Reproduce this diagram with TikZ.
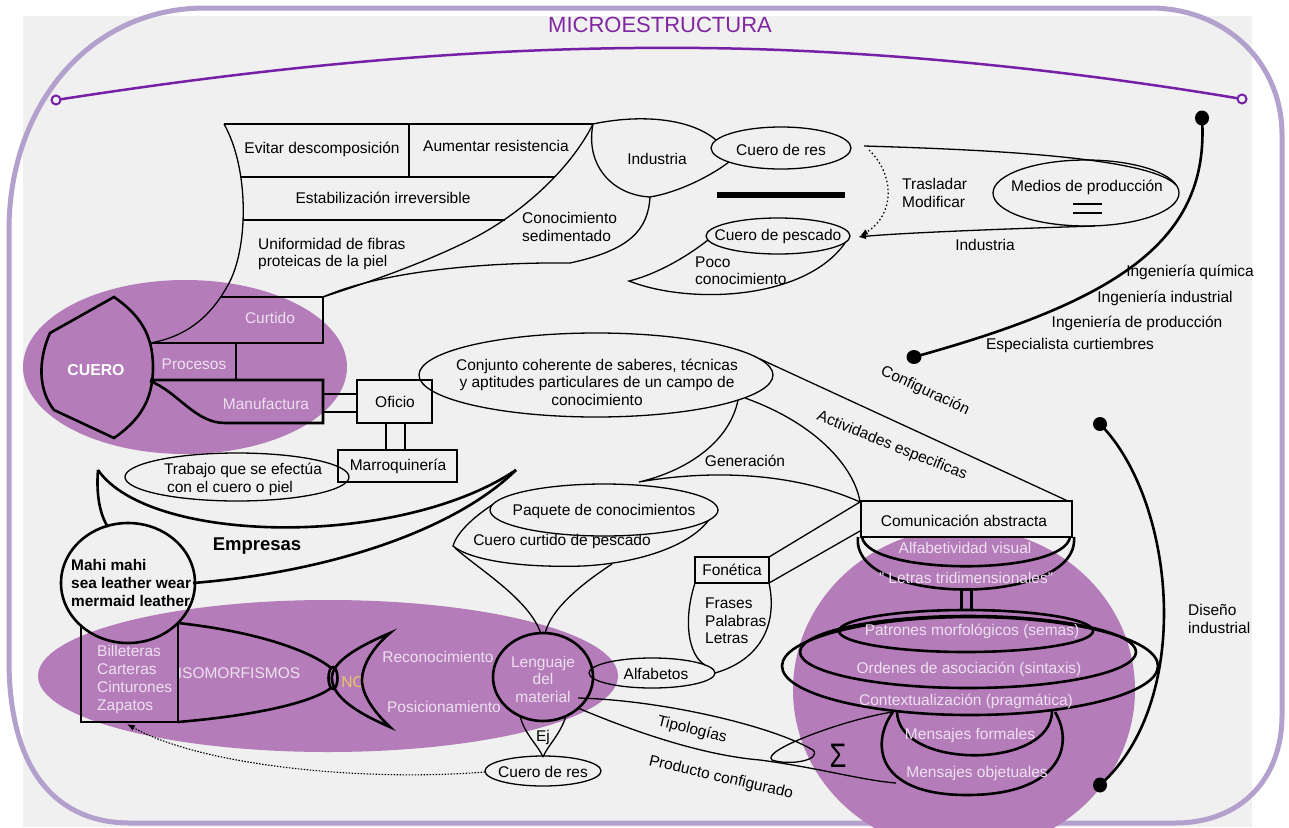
\documentclass[tikz,border=0pt]{standalone}
\usepackage{fontspec}
\setmainfont{Liberation Sans}
\usetikzlibrary{arrows.meta}
\definecolor{bggray}{RGB}{240,240,240}
\definecolor{framec}{RGB}{180,160,205}
\definecolor{titlec}{RGB}{128,38,160}
\definecolor{violetline}{RGB}{118,32,168}
\definecolor{purp}{RGB}{181,124,186}
\definecolor{lighttxt}{RGB}{238,224,240}
\definecolor{yel}{RGB}{236,200,100}
\begin{document}
\begin{tikzpicture}[x=1pt,y=-1pt,
  txt/.style={font=\fontsize{15.5}{17.5}\selectfont, inner sep=0pt, align=center},
  ltxt/.style={txt, text=lighttxt},
  btxt/.style={font=\fontsize{15.4}{18}\selectfont\bfseries, inner sep=0pt, align=left},
  ln/.style={line width=1.3pt, black},
  thk/.style={line width=2.6pt, black},
  arr/.style={-{Latex[length=8pt,width=6pt]}}]
\useasboundingbox (0,0) rectangle (1289,827);
\fill[white] (0,0) rectangle (1289,827);
\fill[bggray] (23,16) rectangle (1252,827);
% frame
\draw[framec, line width=5pt] (9,230) .. controls (9,105) and (90,8) .. (205,8) -- (1150,8)
  .. controls (1225,8) and (1282,62) .. (1282,135) -- (1282,715)
  .. controls (1282,780) and (1240,823) .. (1175,823) -- (130,823)
  .. controls (60,823) and (9,775) .. (9,660) -- cycle;
% title and purple line
\node[font=\fontsize{22}{24}\selectfont, text=titlec, inner sep=0pt] (title) at (660,25) {MICROESTRUCTURA};
\draw[violetline, line width=2.5pt] (56,100) .. controls (300,62) and (500,46) .. (700,48) .. controls (900,50) and (1100,75) .. (1242,99);
\draw[violetline, line width=2pt, fill=bggray] (56,100) ellipse[x radius=4.5, y radius=4.5];
\draw[violetline, line width=2pt, fill=bggray] (1242,99) ellipse[x radius=4.5, y radius=4.5];
% purple blobs
\fill[purp] (185,367) ellipse[x radius=162, y radius=87];
\fill[purp] (328,676) ellipse[x radius=290, y radius=76];
\fill[purp] (964,690) ellipse[x radius=171, y radius=162];

% ---------- top-left table ----------
\draw[ln] (224,124) -- (593,124);
\draw[ln] (409,124) -- (409,177);
\draw[ln] (241,177) -- (554,177);
\draw[ln] (243,220) -- (505,220);
\draw[ln] (224,124) .. controls (250,170) and (248,250) .. (228,285) .. controls (210,318) and (185,337) .. (150,343);
\draw[ln] (593,124) .. controls (570,170) and (520,215) .. (470,240) .. controls (420,265) and (360,285) .. (323,297);
\draw[ln] (323,297) .. controls (380,272) and (480,262) .. (570,263) .. controls (630,250) and (648,230) .. (650,197);
\draw[ln] (650,197) .. controls (612,195) and (585,165) .. (593,124);
\draw[ln] (593,124) .. controls (640,114) and (690,118) .. (716,140);
\draw[ln] (650,197) .. controls (680,192) and (712,175) .. (729,162);
\node[txt] (evitar) at (322,149) {Evitar descomposición};
\node[txt] (aumentar) at (496,146) {Aumentar resistencia};
\node[txt] (estab) at (383,198) {Estabilización irreversible};
\node[txt, anchor=west, align=left] (unif) at (258,254) {Uniformidad de fibras\\proteicas de la piel};
\node[txt, anchor=west, align=left] (conoc) at (522,227) {Conocimiento\\sedimentado};
\node[txt] (industria1) at (657,159) {Industria};

% ---------- CUERO ----------
\draw[thk] (114,297) -- (50,333) .. controls (38,360) and (38,390) .. (54,410) -- (114,438)
  .. controls (140,420) and (153,400) .. (153,367) .. controls (153,335) and (140,315) .. (114,297) -- cycle;
\draw[thk] (220,297) -- (323,297) -- (323,343) -- (150,343);
\draw[thk] (236,343) -- (236,380);
\draw[thk] (150,380) -- (323,380) -- (323,423) -- (225,423) .. controls (195,423) and (178,392) .. (150,381);
\node[font=\fontsize{15.8}{18}\selectfont\bfseries, text=white, inner sep=0pt] (cuero) at (96,370) {CUERO};
\node[ltxt] (curtido) at (270,318) {Curtido};
\node[ltxt] (procesos) at (194,364) {Procesos};
\node[ltxt] (manuf) at (266,404) {Manufactura};
% Oficio / Marroquineria
\draw[ln] (357,380) rectangle (432,423);
\node[txt] (oficio) at (395,402) {Oficio};
\draw[ln] (323,394) -- (357,394);
\draw[ln] (323,412) -- (357,412);
\draw[ln] (338,450) rectangle (457,482);
\node[txt] (marro) at (398,466) {Marroquinería};
\draw[ln] (386,423) -- (386,450);
\draw[ln] (405,423) -- (405,450);
\draw[ln] (237,477) ellipse[x radius=112, y radius=24];
\node[txt] (trab1) at (243,470) {Trabajo que se efectúa};
\node[txt] (trab2) at (230,488) {con el cuero o piel};

% ---------- Empresas ----------
\draw[thk] (98,470) .. controls (150,545) and (400,548) .. (516,470);
\draw[thk] (193,583) .. controls (330,572) and (455,530) .. (516,470);
\draw[thk] (98,470) .. controls (96,495) and (100,515) .. (108,527);
\node[font=\fontsize{18.5}{20}\selectfont\bfseries, inner sep=0pt] (empresas) at (257,546) {Empresas};
\draw[thk] (128,583) ellipse[x radius=67, y radius=60];
\node[btxt, anchor=west] (mahi1) at (71,565) {Mahi mahi};
\node[btxt, anchor=west] (mahi2) at (71,583) {sea leather wear};
\node[btxt, anchor=west] (mahi3) at (71,601) {mermaid leather};

% ---------- bottom-left fish ----------
\draw[thk] (81,626) -- (81,722) -- (178,722) -- (178,623);
\node[ltxt, anchor=west, align=left, font=\fontsize{15.5}{18}\selectfont] (bill) at (97,679) {Billeteras\\Carteras\\Cinturones\\Zapatos};
\draw[thk] (178,623) .. controls (260,632) and (312,652) .. (331,668);
\draw[thk] (178,722) .. controls (260,715) and (312,702) .. (331,688);
\draw[thk] (333,678) ellipse[x radius=4.5, y radius=11];
\node[ltxt] (iso) at (239,673) {ISOMORFISMOS};
\node[txt, text=yel] (no) at (353,682) {NO};
\draw[thk] (390,633) .. controls (350,650) and (330,665) .. (332,680) .. controls (334,697) and (355,712) .. (390,727)
  .. controls (370,708) and (362,692) .. (362,680) .. controls (362,668) and (370,650) .. (390,633) -- cycle;
\node[ltxt] (recon) at (438,657) {Reconocimiento};
\node[ltxt] (posic) at (444,707) {Posicionamiento};

% ---------- Lenguaje del material ----------
\draw[ln] (500,500) .. controls (470,518) and (456,535) .. (453,546) .. controls (470,560) and (520,568) .. (583,566) .. controls (640,563) and (695,545) .. (712,515);
\draw[ln, fill=bggray] (604,510) ellipse[x radius=114, y radius=26];
\node[txt] (paquete) at (604,511) {Paquete de conocimientos};
\node[txt] (curtidopes) at (562,541) {Cuero curtido de pescado};
\draw[ln] (455,548) .. controls (480,570) and (530,600) .. (541,634);
\draw[ln] (612,564) .. controls (580,585) and (550,610) .. (545,634);
\draw[thk] (543,677) ellipse[x radius=50, y radius=44];
\node[ltxt, font=\fontsize{15.5}{17.5}\selectfont] (leng) at (543,679) {Lenguaje\\del\\material};
\draw[ln] (520,716) .. controls (525,735) and (538,745) .. (543,757);
\draw[ln] (566,716) .. controls (560,735) and (548,745) .. (543,757);
\node[txt] (ej) at (543,737) {Ej};
\draw[ln] (543,771) ellipse[x radius=58, y radius=15];
\node[txt] (cueroresb) at (543,772) {Cuero de res};
\draw[line width=1.1pt, dash pattern=on 1.5pt off 1.5pt, arr] (485,772) .. controls (360,782) and (200,765) .. (127,724);

% Alfabetos / Fonetica
\draw[ln] (652,673) ellipse[x radius=63, y radius=15];
\node[txt] (alfab) at (656,674) {Alfabetos};
\draw[ln] (695,557) rectangle (769,583);
\node[txt] (fonet) at (732,570) {Fonética};
\draw[ln] (769,557) -- (860,502);
\draw[ln] (769,583) -- (860,531);
\draw[ln] (695,583) .. controls (683,620) and (688,655) .. (705,665);
\draw[ln] (769,583) .. controls (778,625) and (760,660) .. (715,673);
\node[txt, anchor=west, align=left] (frases) at (705,621) {Frases\\Palabras\\Letras};

% Tipologias / Producto configurado
\draw[ln] (578,698) .. controls (660,700) and (770,725) .. (813,750) .. controls (822,760) and (790,766) .. (772,760) .. controls (760,750) and (850,718) .. (893,712);
\draw[ln] (578,708) .. controls (630,730) and (700,755) .. (760,760) .. controls (820,768) and (860,780) .. (896,783);
\node[txt, rotate=-14] (tipo) at (692,730) {Tipologías};
\node[txt, rotate=-13] (prod) at (721,778) {Producto configurado};

% ---------- Conjunto ----------
\draw[ln] (596,375) ellipse[x radius=177, y radius=42];
\node[txt] (conjunto) at (597,382) {Conjunto coherente de saberes, técnicas\\y aptitudes particulares de un campo de\\conocimiento};
\draw[ln] (760,359) -- (1070,502);
\draw[ln] (745,398) .. controls (820,425) and (855,470) .. (860,502);
\draw[ln] (738,400) .. controls (730,440) and (690,470) .. (639,482) .. controls (720,468) and (800,475) .. (860,502);
\node[txt, rotate=-25] (config) at (925,391) {Configuración};
\node[txt, rotate=-22] (activ) at (892,446) {Actividades especificas};
\node[txt] (gener) at (745,461) {Generación};

% ---------- right purple stack ----------
\draw[thk, fill=bggray] (861,501) rectangle (1072,537);
\node[txt] (comab) at (964,521) {Comunicación abstracta};
\draw[thk] (862,537) .. controls (868,576) and (1064,576) .. (1070,537);
\draw[thk] (858,537) .. controls (850,607) and (1080,607) .. (1074,537);
\node[ltxt] (alfv) at (965,548) {Alfabetividad visual};
\node[ltxt] (letras) at (966,578) {" Letras tridimensionales"};
\draw[line width=3pt] (961,590) -- (961,611);
\draw[line width=3pt] (971,590) -- (971,611);
\draw[thk] (970,666) ellipse[x radius=188, y radius=49];
\draw[thk] (968,652) ellipse[x radius=168, y radius=36];
\draw[thk] (966,631) ellipse[x radius=127, y radius=21];
\node[ltxt] (patron) at (972,631) {Patrones morfológicos (semas)};
\node[ltxt] (orden) at (969,669) {Ordenes de asociación (sintaxis)};
\node[ltxt] (context) at (966,701) {Contextualización (pragmática)};
\draw[thk] (897,711) .. controls (897,770) and (1052,770) .. (1052,711);
\draw[thk] (893,712) .. controls (872,740) and (872,795) .. (967,795) .. controls (1060,795) and (1075,745) .. (1055,712);
\node[ltxt] (mform) at (970,735) {Mensajes formales};
\node[ltxt] (mobj) at (977,773) {Mensajes objetuales};
\node[font=\fontsize{34}{36}\selectfont, inner sep=0pt, xscale=0.8] (sigma) at (838,756) {Σ};

% ---------- top right ----------
\draw[ln] (781,148) ellipse[x radius=70, y radius=21];
\node[txt] (cueroresa) at (781,150) {Cuero de res};
\draw[line width=6pt] (717,195) -- (845,195);
\draw[ln] (708,240) .. controls (680,262) and (650,276) .. (629,281) .. controls (690,305) and (805,300) .. (845,243);
\draw[ln] (778,236) ellipse[x radius=72, y radius=18];
\node[txt] (cpes) at (778,236) {Cuero de pescado};
\node[txt, anchor=west] (poco1) at (695,262) {Poco};
\node[txt, anchor=west] (poco2) at (695,279) {conocimiento};
\draw[ln] (1086,193) ellipse[x radius=93, y radius=33];
\node[txt] (medios) at (1087,187) {Medios de producción};
\draw[line width=2.4pt] (1073,204) -- (1102,204);
\draw[line width=2.4pt] (1073,213) -- (1102,213);
\draw[ln] (864,146) .. controls (1000,150) and (1150,158) .. (1176,185);
\draw[ln, arr] (1095,226) .. controls (1000,229) and (900,233) .. (858,237);
\draw[line width=1.3pt, dash pattern=on 1.5pt off 2.5pt, arr] (869,150) .. controls (895,175) and (895,215) .. (860,236);
\node[txt, anchor=west, align=left] (trasl) at (902,193) {Trasladar\\Modificar};
\node[txt] (industria2) at (985,245) {Industria};

% Ingenierias
\draw[thk] (1202,118) .. controls (1210,240) and (1120,300) .. (914,357);
\fill (1202,118) ellipse[x radius=7, y radius=7.5];
\fill (914,357) ellipse[x radius=7.5, y radius=7];
\node[txt] (ingq) at (1190,272) {Ingeniería química};
\node[txt] (ingi) at (1165,298) {Ingeniería industrial};
\node[txt] (ingp) at (1137,323) {Ingeniería de producción};
\node[txt] (espc) at (1070,345) {Especialista curtiembres};

% Diseno industrial
\draw[thk] (1100,424) .. controls (1175,500) and (1195,700) .. (1100,785);
\fill (1100,424) ellipse[x radius=7, y radius=7];
\fill (1100,785) ellipse[x radius=7, y radius=7.5];
\node[txt, anchor=west, align=left] (diseno) at (1188,619) {Diseño\\industrial};
\end{tikzpicture}
\end{document}
